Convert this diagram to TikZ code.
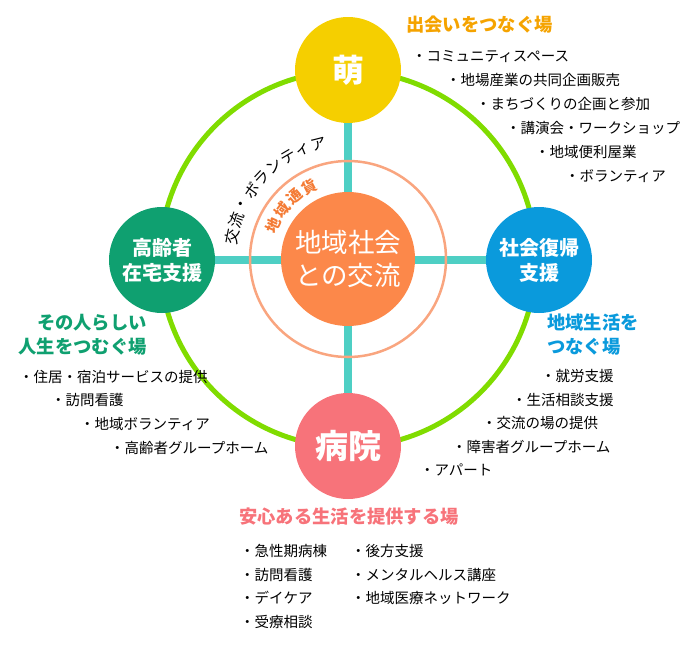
\documentclass[tikz,border=0pt]{standalone}
\usepackage{fontspec}
\setmainfont{Noto Sans CJK JP}
\usepackage{xcolor}
\usepackage{tikz}
\usetikzlibrary{positioning, backgrounds, calc}

\definecolor{moeyellow}{HTML}{F5CF00}
\definecolor{ringgreen}{HTML}{80DC00}
\definecolor{crossteal}{HTML}{4ECFC4}
\definecolor{ringsalmon}{HTML}{F9A57F}
\definecolor{huborange}{HTML}{FC884A}
\definecolor{elderGreen}{HTML}{0FA070}
\definecolor{returnBlue}{HTML}{0A9ADC}
\definecolor{hospPink}{HTML}{F7737A}
\definecolor{titleOrange}{HTML}{F5A300}
\definecolor{currOrange}{HTML}{F47B35}

\begin{document}
\begin{tikzpicture}[x=1pt, y=-1pt, every node/.style={inner sep=0pt}]
    % Styles
    \tikzstyle{hubnode} = [circle, minimum size=106pt, text=white, align=center, font=\bfseries\fontsize{20}{25}\selectfont]
    \tikzstyle{item} = [anchor=west, font=\fontsize{14.5}{16}\selectfont]
    \tikzstyle{heading} = [font=\bfseries\fontsize{18.3}{24}\selectfont]

    \useasboundingbox (0,0) rectangle (696,645);

    % Circles
    \node[circle, minimum size=134pt, fill=huborange, text=white, align=center, font=\fontsize{26.5}{33}\selectfont] (hub) at (348,259) {地域社会\\との交流};
    \node[hubnode, fill=moeyellow, font=\bfseries\fontsize{32}{33}\selectfont] (moe) at (348,70) {萌};
    \node[hubnode, fill=elderGreen] (elder) at (162,260) {高齢者\\在宅支援};
    \node[hubnode, fill=returnBlue] (social) at (539,260) {社会復帰\\支援};
    \node[hubnode, fill=hospPink, font=\bfseries\fontsize{33}{33}\selectfont] (hosp) at (348,446) {病院};

    % Rings and cross
    \begin{scope}[on background layer]
        \draw[ringgreen, line width=5pt] (hub.center) circle[radius=188];
        \draw[crossteal, line width=8.5pt] (moe) -- (hosp);
        \draw[crossteal, line width=8.5pt] (elder) -- (social);
        \draw[ringsalmon, line width=2.5pt] (hub.center) circle[radius=98];
    \end{scope}

    % Arc labels
    \foreach \c [count=\i] in {交,流,・,ボ,ラ,ン,テ,ィ,ア}
        \node[font=\fontsize{15.5}{15.5}\selectfont, rotate={169-(\i-1)*8.1-90}] (volunteer\i)
            at ($(hub.center)+({118*cos(169-(\i-1)*8.1)},{-118*sin(169-(\i-1)*8.1)})$) {\c};
    \foreach \c [count=\i] in {地,域,通,貨}
        \node[text=currOrange, font=\bfseries\fontsize{15}{15}\selectfont, rotate={156-(\i-1)*12.7-90}] (currency\i)
            at ($(hub.center)+({82*cos(156-(\i-1)*12.7)},{-82*sin(156-(\i-1)*12.7)})$) {\c};

    % Top: meeting place
    \node[heading, text=titleOrange, anchor=west] (meetTitle) at (406,25) {出会いをつなぐ場};
    \node[item] (meet1) at (412,57) {・コミュニティスペース};
    \node[item] (meet2) at (446,80) {・地場産業の共同企画販売};
    \node[item] (meet3) at (476,104) {・まちづくりの企画と参加};
    \node[item] (meet4) at (506,128) {・講演会・ワークショップ};
    \node[item] (meet5) at (535,152) {・地域便利屋業};
    \node[item] (meet6) at (565,176) {・ボランティア};

    % Left: elderly care
    \node[heading, text=elderGreen, anchor=east, align=right] (elderTitle) at (147,335) {その人らしい\\人生をつむぐ場};
    \node[item] (elder1) at (19,377) {・住居・宿泊サービスの提供};
    \node[item] (elder2) at (51,400) {・訪問看護};
    \node[item] (elder3) at (80,424) {・地域ボランティア};
    \node[item] (elder4) at (110,448) {・高齢者グループホーム};

    % Right: social return
    \node[heading, text=returnBlue, anchor=west, align=left] (socialTitle) at (547,335) {地域生活を\\つなぐ場};
    \node[item] (social1) at (541,376) {・就労支援};
    \node[item] (social2) at (512,400) {・生活相談支援};
    \node[item] (social3) at (482,423) {・交流の場の提供};
    \node[item] (social4) at (452,447) {・障害者グループホーム};
    \node[item] (social5) at (420,470) {・アパート};

    % Bottom: hospital
    \node[heading, text=hospPink, anchor=west] (hospTitle) at (239,517) {安心ある生活を提供する場};
    \node[item] (hosp1) at (240,551) {・急性期病棟};
    \node[item] (hosp2) at (240,575) {・訪問看護};
    \node[item] (hosp3) at (240,598) {・デイケア};
    \node[item] (hosp4) at (240,622) {・受療相談};
    \node[item] (hosp5) at (351,551) {・後方支援};
    \node[item] (hosp6) at (351,575) {・メンタルヘルス講座};
    \node[item] (hosp7) at (351,598) {・地域医療ネットワーク};
\end{tikzpicture}
\end{document}
